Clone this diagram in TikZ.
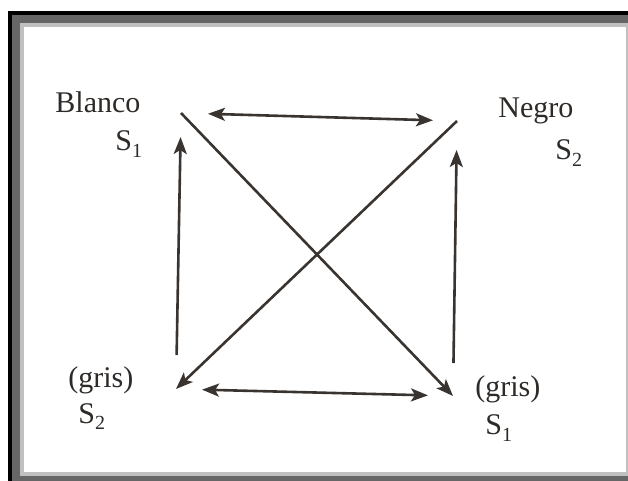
\documentclass[tikz,border=0pt]{standalone}
\usepackage{fontspec}
\setmainfont{Liberation Serif}
\usepackage{xcolor}
\usetikzlibrary{arrows.meta}

\definecolor{ink}{HTML}{3A3430}
\definecolor{framedark}{HTML}{666666}
\definecolor{framelight}{HTML}{C0C0C0}
\newcommand{\lowidx}[1]{\raisebox{-0.5ex}{\fontsize{10}{10}\selectfont #1}}

\begin{document}
\begin{tikzpicture}[x=0.5pt, y=-0.5pt,
  lbl/.style={anchor=base west, inner sep=0pt, text=ink!80!black, font=\fontsize{15}{18}\selectfont},
  link/.style={draw=ink, line width=1.3pt, -{Stealth[length=8.5pt, width=6.5pt, inset=2pt]}}]
\useasboundingbox (0,0) rectangle (628,481);
% frame
\fill[black] (8,11) rectangle (628,481);
\fill[framedark] (12,15) rectangle (628,481);
\fill[framelight] (20,23) rectangle (628,476);
\fill[white] (24,27) rectangle (626,472);
% corner labels
\node[lbl] (blanco) at (55,113) {Blanco};
\node[lbl] (s1a) at (115,151) {S\lowidx{1}};
\node[lbl] (negro) at (498,118) {Negro};
\node[lbl] (s2a) at (555,160) {S\lowidx{2}};
\node[lbl] (grisl) at (68,388) {(gris)};
\node[lbl] (s2b) at (78,423) {S\lowidx{2}};
\node[lbl] (grisr) at (475,397) {(gris)};
\node[lbl] (s1b) at (485,435) {S\lowidx{1}};
% corners of the square
\coordinate (tl) at (181,113);
\coordinate (tr) at (457,121);
\coordinate (bl) at (176,389);
\coordinate (br) at (453,396);
% connectors
\draw[link, {Stealth[length=8.5pt, width=6.5pt, inset=2pt]}-{Stealth[length=8.5pt, width=6.5pt, inset=2pt]}, shorten <=13.5pt, shorten >=12pt] (tl) -- (tr);
\draw[link, {Stealth[length=8.5pt, width=6.5pt, inset=2pt]}-{Stealth[length=8.5pt, width=6.5pt, inset=2pt]}, shorten <=13pt, shorten >=12.5pt] (bl) -- (br);
\draw[link, shorten <=17pt, shorten >=12pt] (bl) -- (tl);
\draw[link, shorten <=16.5pt, shorten >=14.5pt] (br) -- (tr);
\draw[link] (tl) -- (br);
\draw[link] (tr) -- (bl);
\end{tikzpicture}
\end{document}
